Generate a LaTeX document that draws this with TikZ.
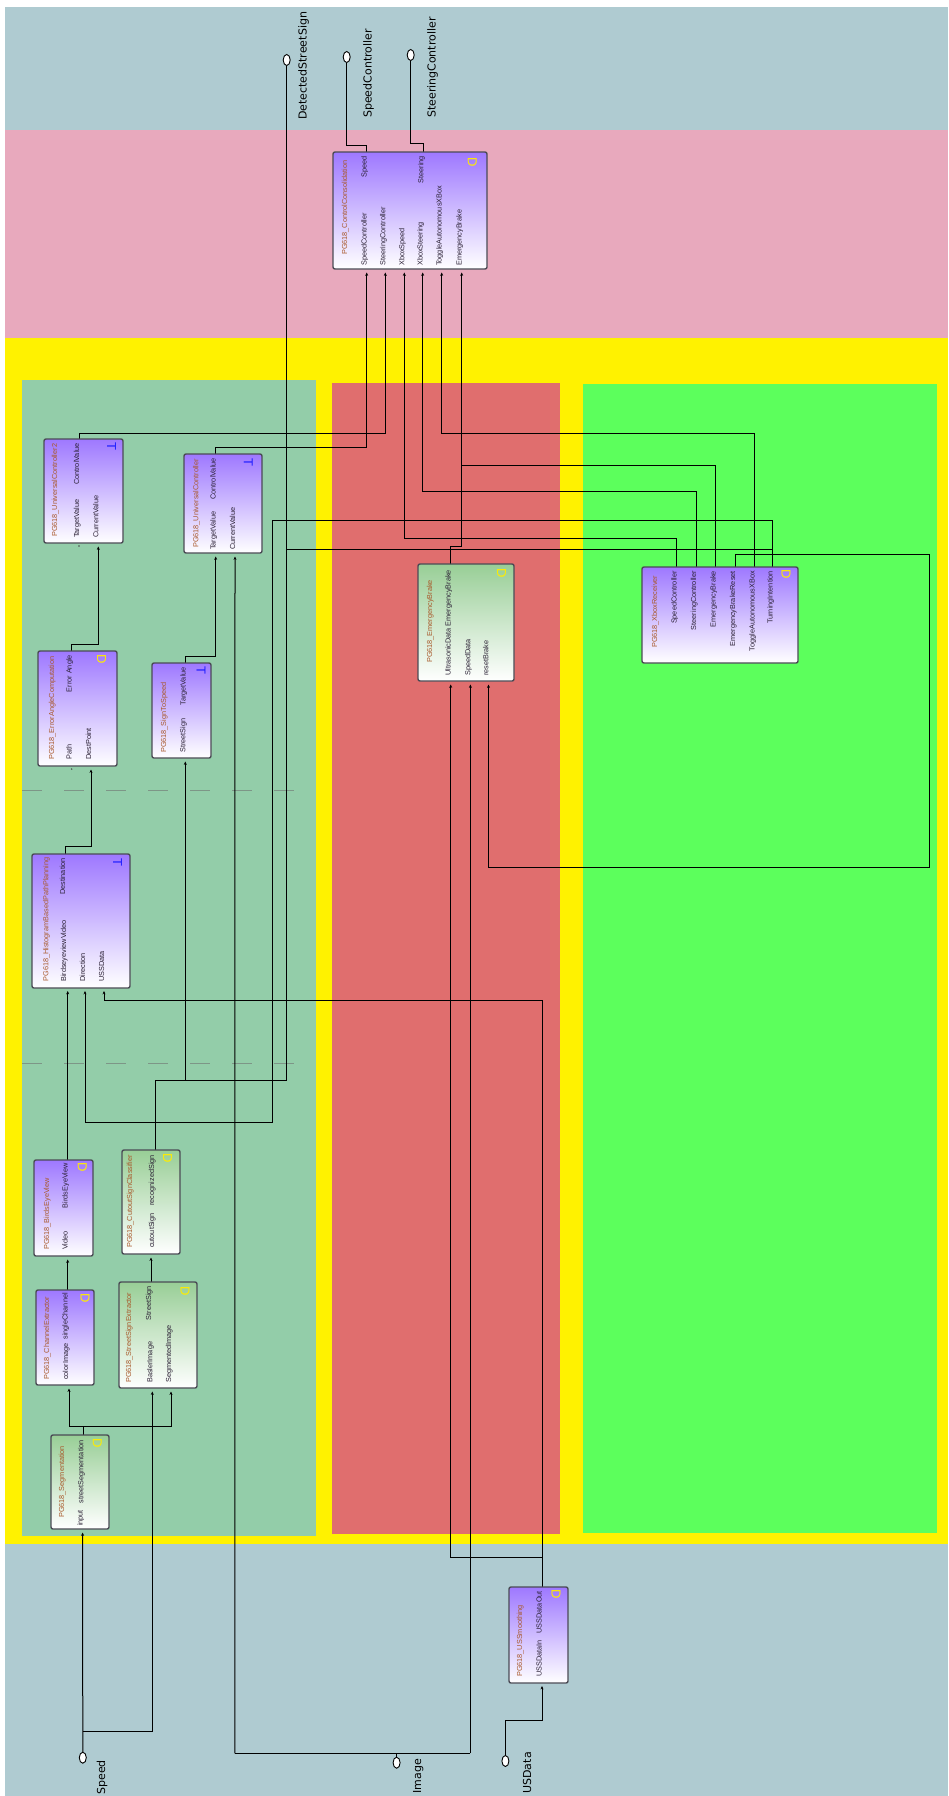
\documentclass[tikz,border=0pt]{standalone}
\usepackage{fontspec}
\setmainfont{Liberation Sans}
\newfontfamily\labfont{DejaVu Sans}
\usetikzlibrary{arrows.meta,shapes.geometric}
\definecolor{bgblue}{RGB}{175,203,209}
\definecolor{bgpink}{RGB}{232,169,189}
\definecolor{bgyellow}{RGB}{255,242,0}
\definecolor{bgteal}{RGB}{147,205,169}
\definecolor{bgred}{RGB}{224,110,110}
\definecolor{bggreen}{RGB}{92,255,92}
\definecolor{blkpurple}{RGB}{158,120,255}
\definecolor{blkgreen}{RGB}{152,206,150}
\definecolor{blkborder}{RGB}{75,75,85}
\definecolor{hdrcol}{RGB}{168,88,42}
\definecolor{portcol}{RGB}{42,32,52}
\definecolor{dcol}{RGB}{255,236,0}
\definecolor{tcol}{RGB}{30,30,255}
\definecolor{dashcol}{RGB}{125,150,135}
\newcounter{lblc}
\newcommand{\inlab}[3]{\stepcounter{lblc}\node[ptxt,anchor=base west] (lb\arabic{lblc}) at (#1,#2) {#3};}
\newcommand{\outlab}[3]{\stepcounter{lblc}\node[ptxt,anchor=base east] (lb\arabic{lblc}) at (#1,#2) {#3};}
\newcommand{\hdlab}[3]{\stepcounter{lblc}\node[htxt,anchor=base west] (lb\arabic{lblc}) at (#1,#2) {#3};}
\newcommand{\blk}[6]{\node[#6,minimum width={#4-#2},minimum height={#5-#3}] (#1) at ({(#2+#4)/2},{(#3+#5)/2}) {};}
\newcommand{\dmark}[2]{\stepcounter{lblc}\node[dlet] (lb\arabic{lblc}) at (#1,#2) {D};}
\newcommand{\tmark}[2]{\stepcounter{lblc}\node[tlet] (lb\arabic{lblc}) at (#1,#2) {T};}
\begin{document}
\begin{tikzpicture}[x=1pt,y=-1pt,
  wire/.style={draw=black,line width=1pt},
  arr/.style={wire,-{Stealth[length=3.4pt,width=3pt]}},
  pblk/.style={draw=blkborder,line width=1.4pt,rounded corners=2pt,top color=blkpurple,bottom color=white,inner sep=0pt,outer sep=0pt},
  gblk/.style={pblk,top color=blkgreen,bottom color=white},
  ptxt/.style={rotate=90,inner sep=0pt,font=\fontsize{7.3}{8}\selectfont,text=portcol},
  htxt/.style={ptxt,text=hdrcol},
  tlab/.style={rotate=90,inner sep=0pt,font=\labfont\fontsize{11}{13}\selectfont},
  blab/.style={tlab},
  term/.style={ellipse,draw=black,fill=white,line width=0.9pt,minimum width=7pt,minimum height=11pt,inner sep=0pt},
  dlet/.style={rotate=-90,inner sep=0pt,text=dcol,font=\fontsize{13}{13}\selectfont},
  tlet/.style={dlet,text=tcol},
  dashln/.style={draw=dashcol,line width=1pt,dash pattern=on 20pt off 22pt},
  portdot/.style={circle,fill=black!70,inner sep=0pt,minimum size=1.6pt}
]
\useasboundingbox (0,0) rectangle (948,1796);
% backgrounds
\fill[white] (0,0) rectangle (948,1796);
\fill[bgblue] (5,7) rectangle (948,1796);
\fill[bgpink] (5,130) rectangle (948,338);
\fill[bgyellow] (5,338) rectangle (948,1544);
\fill[bgteal] (22,380) rectangle (316,1536);
\fill[bgred] (332,383) rectangle (560,1534);
\fill[bggreen] (583,384) rectangle (937,1533);
\draw[dashln] (22,790) -- (316,790);
\draw[dashln] (22,1063) -- (316,1063);

% terminals
\node[term] (t-dss) at (286.7,60) {};
\node[term] (t-sc) at (346.7,57) {};
\node[term] (t-stc) at (410.7,55) {};
\node[term] (t-speed) at (82.8,1757.7) {};
\node[term] (t-img) at (396.6,1762.7) {};
\node[term] (t-usd) at (505.4,1761) {};
\node[tlab,anchor=base west] (l-dss) at (306.5,120) {DetectedStreetSign};
\node[tlab,anchor=base west] (l-sc) at (371.5,118) {SpeedController};
\node[tlab,anchor=base west] (l-stc) at (435.5,118) {SteeringController};
\node[blab,anchor=base east] (l-speed) at (105,1760) {Speed};
\node[blab,anchor=base east] (l-img) at (421,1759) {Image};
\node[blab,anchor=base east] (l-usd) at (531,1752) {USData};

% port coordinates
\coordinate (cc-speed) at (366.7,152);
\coordinate (cc-steer) at (423.3,152);
\coordinate (cc-in1) at (366.7,272.5);
\coordinate (cc-in2) at (385.3,272.5);
\coordinate (cc-in3) at (404.3,272.5);
\coordinate (cc-in4) at (422.7,272.5);
\coordinate (cc-in5) at (441.7,272.5);
\coordinate (cc-in6) at (461.7,272.5);
\coordinate (uc2-out) at (79,439);
\coordinate (uc2-in2) at (98.3,546.5);
\coordinate (uc-out) at (215.7,454);
\coordinate (uc-in1) at (215.7,556.5);
\coordinate (uc-in2) at (235,556.5);
\coordinate (eac-out) at (71.7,651);
\coordinate (eac-in2) at (91,769.5);
\coordinate (s2s-out) at (185.7,663);
\coordinate (s2s-in) at (185.3,761.5);
\coordinate (hbp-out) at (65,854);
\coordinate (hbp-in1) at (67.7,991);
\coordinate (hbp-in2) at (85,991);
\coordinate (hbp-in3) at (104,991);
\coordinate (eb-out) at (450.7,564);
\coordinate (eb-in1) at (450.7,684.5);
\coordinate (eb-in2) at (470.4,684.5);
\coordinate (eb-in3) at (488.5,684.5);
\coordinate (xr-o1) at (676.5,567);
\coordinate (xr-o2) at (696,567);
\coordinate (xr-o3) at (715.5,567);
\coordinate (xr-o4) at (735,567);
\coordinate (xr-o5) at (754.5,567);
\coordinate (xr-o6) at (772.5,567);
\coordinate (bev-out) at (67.7,1160);
\coordinate (bev-in) at (67.7,1259.5);
\coordinate (csc-out) at (155,1150);
\coordinate (csc-in) at (151,1257.5);
\coordinate (ce-out) at (67.7,1290);
\coordinate (ce-in) at (69,1388.5);
\coordinate (sse-out) at (151,1282);
\coordinate (sse-in1) at (152.3,1391.5);
\coordinate (sse-in2) at (171,1391.5);
\coordinate (seg-out) at (83.3,1435);
\coordinate (seg-in) at (82.6,1532.5);
\coordinate (uss-out) at (542,1587);
\coordinate (uss-in) at (542,1686);
\coordinate (j-sign) at (185.3,1080);
\coordinate (j-seg) at (83.3,1426.7);
\coordinate (j-speed) at (82.8,1731);
\coordinate (j-img) at (396.6,1753.3);
\coordinate (j-uss) at (542,1557);

% wires
\draw[wire] (cc-speed) -- (366.7,145) -- (346.7,145) -- (t-sc.south);
\draw[wire] (cc-steer) -- (423.3,143.3) -- (410.7,143.3) -- (t-stc.south);
\draw[wire] (t-dss.south) -- (286.7,1080) -- (155,1080) -- (csc-out);
\draw[arr] (j-sign) -- (s2s-in);
\draw[arr] (uc2-out) -- (79,433.3) -- (385.3,433.3) -- (cc-in2);
\draw[arr] (uc-out) -- (215.7,447.3) -- (366.7,447.3) -- (cc-in1);
\draw[arr] (xr-o1) -- (676.5,538.2) -- (404.3,538.2) -- (cc-in3);
\draw[arr] (xr-o2) -- (696,491.4) -- (422.7,491.4) -- (cc-in4);
\draw[arr] (xr-o3) -- (715.5,465.7) -- (461.7,465.7) -- (cc-in6);
\draw[wire] (eb-out) -- (450.7,546) -- (461.7,546) -- (461.7,465.7);
\draw[arr] (xr-o4) -- (735,554) -- (929.5,554) -- (929.5,867.5) -- (488.5,867.5) -- (eb-in3);
\draw[arr] (xr-o5) -- (754.5,433.6) -- (441.7,433.6) -- (cc-in5);
\draw[arr] (xr-o6) -- (772.5,520.4) -- (272.3,520.4) -- (272.3,1122) -- (85,1122) -- (hbp-in2);
\draw[wire] (286.7,549.6) -- (772.5,549.6);
\draw[arr] (eac-out) -- (71.7,644) -- (98.3,644) -- (uc2-in2);
\draw[arr] (s2s-out) -- (185.7,656) -- (215.7,656) -- (uc-in1);
\draw[arr] (hbp-out) -- (65,846.7) -- (91,846.7) -- (eac-in2);
\draw[arr] (bev-out) -- (hbp-in1);
\draw[arr] (ce-out) -- (bev-in);
\draw[arr] (sse-out) -- (csc-in);
\draw[wire] (seg-out) -- (j-seg);
\draw[wire] (69,1426.7) -- (171,1426.7);
\draw[arr] (69,1426.7) -- (ce-in);
\draw[arr] (171,1426.7) -- (sse-in2);
\draw[arr] (t-speed.north) -- (seg-in);
\draw[arr] (j-speed) -- (152.3,1731) -- (sse-in1);
\draw[wire] (t-img.north) -- (j-img);
\draw[wire] (234.9,1753.3) -- (470.4,1753.3);
\draw[arr] (234.9,1753.3) -- (uc-in2);
\draw[arr] (470.4,1753.3) -- (eb-in2);
\draw[arr] (t-usd.north) -- (505.4,1720) -- (542,1720) -- (uss-in);
\draw[arr] (uss-out) -- (542,1000) -- (104,1000) -- (hbp-in3);
\draw[arr] (j-uss) -- (450.7,1557) -- (eb-in1);

% blocks
\blk{cc}{333}{152}{487}{269}{pblk}
\hdlab{347}{255}{PG618\_ControlConsolidation}
\outlab{366.7}{156}{Speed}
\outlab{423.3}{156}{Steering}
\inlab{366.7}{266}{SpeedController}
\inlab{385.3}{266}{SteeringController}
\inlab{404.3}{266}{XboxSpeed}
\inlab{422.7}{266}{XboxSteering}
\inlab{441.7}{266}{ToggleAutonomousXBox}
\inlab{461.7}{266}{EmergencyBrake}
\dmark{472.3}{161.7}

\blk{uc2}{44}{439}{123}{543}{pblk}
\hdlab{57}{537}{PG618\_UniversalController2}
\outlab{79}{443}{ControlValue}
\inlab{79}{538}{TargetValue}
\inlab{98.3}{538}{CurrentValue}
\tmark{111.7}{446.7}
\node[portdot] (pd1) at (79,546) {};

\blk{uc}{184}{454}{262}{553}{pblk}
\hdlab{198.3}{548}{PG618\_UniversalController}
\outlab{215.7}{458}{ControlValue}
\inlab{215.7}{550}{TargetValue}
\inlab{235}{550}{CurrentValue}
\tmark{248.3}{462.7}

\blk{eac}{38}{651}{117}{766}{pblk}
\hdlab{54}{760}{PG618\_ErrorAngleComputation}
\outlab{71.7}{655}{Error Angle}
\inlab{71.7}{760}{Path}
\inlab{91}{760}{DestPoint}
\dmark{101.7}{659.3}
\node[portdot] (pd2) at (71.7,769) {};

\blk{s2s}{152}{663}{211}{758}{pblk}
\hdlab{166}{753}{PG618\_SignToSpeed}
\outlab{185.7}{667}{TargetValue}
\inlab{185.3}{753}{StreetSign}
\tmark{201}{670.7}

\blk{hbp}{32}{854}{130}{988}{pblk}
\hdlab{48.3}{981.7}{PG618\_HistogramBasedPathPlanning}
\outlab{65}{858}{Destination}
\inlab{66}{982}{BirdseyeviewVideo}
\inlab{85}{982}{Direction}
\inlab{104}{982}{USSData}
\tmark{117.7}{862.7}

\blk{eb}{418}{564}{514}{681}{gblk}
\hdlab{432}{663}{PG618\_EmergencyBrake}
\outlab{450.7}{570}{EmergencyBrake}
\inlab{450.7}{676}{UltrasonicData}
\inlab{470.3}{676}{SpeedData}
\inlab{488.3}{676}{resetBrake}
\dmark{501.7}{573.3}

\blk{xr}{642}{567}{798}{663}{pblk}
\hdlab{657}{648}{PG618\_XboxReceiver}
\outlab{676.5}{571}{SpeedController}
\outlab{696}{571}{SteeringController}
\outlab{715.5}{571}{EmergencyBrake}
\outlab{735}{571}{EmergencyBrakeReset}
\outlab{754.5}{571}{ToggleAutonomousXBox}
\outlab{772.5}{571}{TurningIntention}
\dmark{786}{574.3}

\blk{bev}{34}{1160}{93}{1256}{pblk}
\hdlab{49}{1250}{PG618\_BirdsEyeView}
\outlab{67.7}{1163}{BirdsEyeView}
\inlab{67.7}{1250}{Video}
\dmark{82.3}{1166.7}

\blk{csc}{122}{1150}{180}{1254}{gblk}
\hdlab{132}{1248}{PG618\_CutoutSignClassifier}
\outlab{154}{1155}{recognizedSign}
\inlab{154}{1248}{cutoutSign}
\dmark{167.7}{1158.3}

\blk{ce}{36}{1290}{94}{1385}{pblk}
\hdlab{49}{1380}{PG618\_ChannelExtractor}
\outlab{67.7}{1293}{singleChannel}
\inlab{68}{1380}{colorImage}
\dmark{85}{1298.3}

\blk{sse}{119}{1282}{197}{1388}{gblk}
\hdlab{131}{1383}{PG618\_StreetSignExtractor}
\outlab{151}{1286}{StreetSign}
\inlab{152.3}{1383}{BaslerImage}
\inlab{171}{1383}{SegmentedImage}
\dmark{185}{1290.7}

\blk{seg}{51}{1435}{109}{1529}{gblk}
\hdlab{64}{1518}{PG618\_Segmentation}
\outlab{83.3}{1440}{streetSegmentation}
\inlab{82.6}{1526}{input}
\dmark{97.3}{1443.3}

\blk{uss}{509}{1587}{568}{1683}{pblk}
\hdlab{522}{1677}{PG618\_USSmoothing}
\outlab{541.7}{1591}{USSDataOut}
\inlab{541.7}{1677}{USSDataIn}
\dmark{556}{1594}
\end{tikzpicture}
\end{document}
